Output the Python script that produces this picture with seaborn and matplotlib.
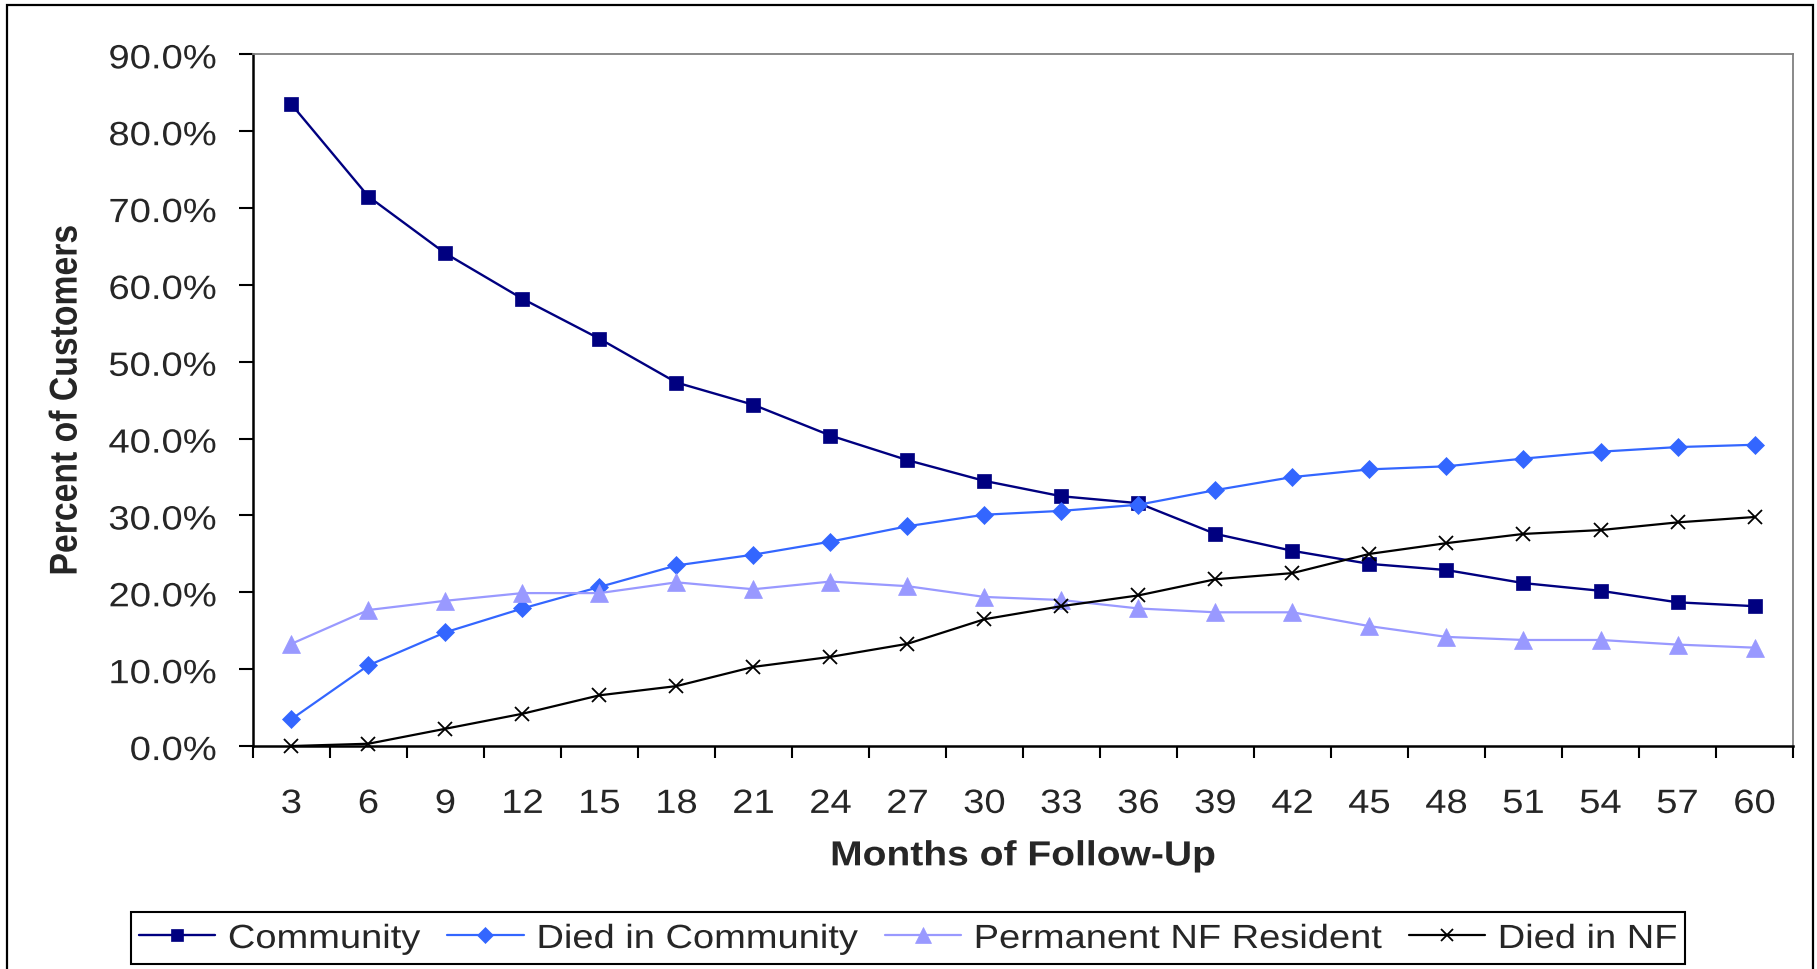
import matplotlib
matplotlib.use("Agg")
import matplotlib.pyplot as plt
from matplotlib.patches import Rectangle
from matplotlib.patheffects import AbstractPathEffect
from matplotlib.transforms import Affine2D
from matplotlib.ticker import FixedLocator, FixedFormatter, NullFormatter, PercentFormatter
import seaborn as sns

# Follow-up time points (months)
months = [3, 6, 9, 12, 15, 18, 21, 24, 27, 30, 33, 36, 39, 42, 45, 48, 51, 54, 57, 60]

# Percent of customers in each status at each follow-up point
community = [83.5, 71.5, 64.1, 58.2, 53.0, 47.3, 44.4, 40.4, 37.2, 34.5,
             32.5, 31.6, 27.6, 25.4, 23.7, 22.9, 21.2, 20.2, 18.7, 18.2]
died_in_community = [3.5, 10.5, 14.8, 17.9, 20.7, 23.5, 24.9, 26.6, 28.6, 30.1,
                     30.6, 31.4, 33.3, 35.0, 36.0, 36.4, 37.4, 38.3, 38.9, 39.2]
permanent_nf = [13.3, 17.7, 18.9, 19.9, 19.9, 21.3, 20.4, 21.4, 20.8, 19.4,
                19.0, 17.9, 17.4, 17.4, 15.6, 14.2, 13.8, 13.8, 13.2, 12.8]
died_in_nf = [0.0, 0.3, 2.25, 4.2, 6.6, 7.8, 10.3, 11.6, 13.3, 16.5,
              18.2, 19.6, 21.7, 22.5, 25.0, 26.4, 27.6, 28.1, 29.1, 29.8]

series_names = ["Community", "Died in Community", "Permanent NF Resident", "Died in NF"]


class GlyphScale(AbstractPathEffect):
    """Scale glyphs perpendicular to the text direction (about the baseline),
    giving the wide letterforms of a horizontally stretched chart."""

    def __init__(self, sy):
        super().__init__()
        self._sy = sy

    def draw_path(self, renderer, gc, tpath, affine, rgbFace=None):
        renderer.draw_path(gc, tpath, Affine2D().scale(1.0, self._sy) + affine, rgbFace)


sns.set_style("white")
plt.rcParams["font.family"] = ["Liberation Sans", "DejaVu Sans"]

fig = plt.figure(figsize=(18.17, 9.69), dpi=100)
ax = fig.add_axes([0.1392, 0.2301, 0.8476, 0.7138])

styles = [
    dict(color="#000080", marker="s", markersize=9.8, mec="#000080", mew=0.5, linewidth=1.7),
    dict(color="#3366FF", marker="D", markersize=9.0, mec="#3366FF", mew=0.5, linewidth=1.6),
    dict(color="#9999FF", marker="^", markersize=13.5, mec="#9999FF", mew=0.5, linewidth=1.6),
    dict(color="#000000", marker="x", markersize=10.0, mec="#000000", mew=1.3, linewidth=1.6),
]
for name, values, st in zip(series_names,
                            [community, died_in_community, permanent_nf, died_in_nf],
                            styles):
    sns.lineplot(x=months, y=values, ax=ax, label=name, clip_on=False, **st)

# Axis ranges and ticks: categories centred between boundary tick marks
ax.set_xlim(1.5, 61.5)
ax.set_ylim(0, 90)
ax.xaxis.set_major_locator(FixedLocator([1.5 + 3 * i for i in range(21)]))
ax.xaxis.set_major_formatter(NullFormatter())
ax.xaxis.set_minor_locator(FixedLocator(months))
ax.xaxis.set_minor_formatter(FixedFormatter([str(m) for m in months]))
ax.yaxis.set_major_locator(FixedLocator([10 * i for i in range(10)]))
ax.yaxis.set_major_formatter(PercentFormatter(xmax=100, decimals=1))

TICK_FS = 27.5
ax.tick_params(axis="x", which="major", direction="out", length=8.6, width=1.5,
               color="black", bottom=True)
ax.tick_params(axis="x", which="minor", length=0, pad=28, labelsize=TICK_FS, bottom=True)
ax.tick_params(axis="y", which="major", direction="out", length=10, width=1.5,
               color="black", pad=16, labelsize=TICK_FS, left=True)

for side in ("left", "bottom"):
    ax.spines[side].set_color("black")
    ax.spines[side].set_linewidth(1.8)
for side in ("top", "right"):
    ax.spines[side].set_color("#808080")
    ax.spines[side].set_linewidth(1.3)
ax.grid(False)

wide = GlyphScale(0.88)
for t in ax.yaxis.get_major_ticks() + ax.xaxis.get_minor_ticks():
    t.label1.set_path_effects([wide])

xl = ax.set_xlabel("Months of Follow-Up", fontsize=28.1, fontweight="bold", va="center")
xl.set_path_effects([GlyphScale(0.89)])
ax.xaxis.set_label_coords(0.5, -0.158)
yl = ax.set_ylabel("Percent of Customers", fontsize=24.3, fontweight="bold", va="center")
yl.set_path_effects([GlyphScale(1.15)])
ax.yaxis.set_label_coords(-0.120, 0.5)

leg = ax.legend(loc="center", bbox_to_anchor=(0.4997, 0.032), bbox_transform=fig.transFigure,
                ncol=4, fontsize=27.4, frameon=True, fancybox=False, framealpha=1,
                edgecolor="black", handlelength=2.0, handletextpad=0.34,
                columnspacing=0.72, borderpad=0.21, markerscale=0.85)
leg.get_frame().set_linewidth(1.5)
for txt in leg.get_texts():
    txt.set_path_effects([wide])

# Chart-area border around the whole figure
fig.add_artist(Rectangle((7 / 1817, -0.05), (1813 - 7) / 1817, 0.9953 + 0.05,
                         transform=fig.transFigure, fill=False,
                         edgecolor="black", linewidth=1.6))

fig.savefig("out.png", dpi=100, facecolor="white")
